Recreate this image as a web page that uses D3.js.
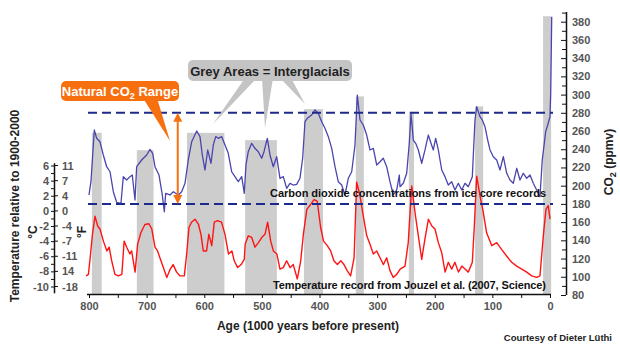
<!DOCTYPE html>
<html>
<head>
<meta charset="utf-8">
<script src="https://cdn.jsdelivr.net/npm/d3@7"></script>
<style>
  body { margin: 0; background: #fff; }
  svg { display: block; font-family: "Liberation Sans", Arial, sans-serif; font-weight: bold; }
</style>
</head>
<body>
<svg id="chart" width="620" height="345"></svg>
<script>
// interglacial periods: [start age, end age, top of grey area in ppmv]
const interglacials = [
  [795, 778, 258], [717, 688, 239], [630, 565, 258], [529, 474, 250],
  [427, 394, 284], [337, 323, 298], [245, 236, 281], [130, 116, 287], [12, -2, 386]
];

// CO2 record [age ka, ppmv]
const co2Series = [
  [800,189.8],[796.6,204.4],[790.8,261.1],[786.7,252],[781,248.3],[775.2,233.7],[769.3,220.8],
  [763.5,215.3],[757.8,193.4],[752,181.8],[744.5,180.7],[740.5,209.9],[734.6,206.2],[728.9,209.9],
  [724.9,211.7],[720.2,184.3],[717.3,220.8],[708.6,228.2],[699.9,233.7],[694.2,239.9],[689.5,235.5],
  [685.5,220.8],[678.5,211.7],[672.8,189.8],[669.3,171.4],[666.9,191.6],[659.4,189.8],[653.7,193.4],
  [645,189.8],[639.2,193.4],[633.4,202.6],[627.7,228.2],[621.8,248.3],[613.1,260],[607.4,253.8],
  [603.4,233.7],[598.7,217.2],[594,239.2],[588.3,224.6],[584.3,244.7],[580.1,253.8],[575.6,252],
  [569.7,253.8],[564,244.7],[558.3,235.5],[552.4,215.3],[546.7,209.9],[540.9,204.4],[535,209.9],
  [530.5,191.6],[527.6,222.7],[523.6,237.3],[517.7,246.5],[512,241],[506.2,237.3],[500.3,230.1],
  [496.3,237.3],[490.6,252],[485.9,233.7],[480.2,220.8],[474.3,231.8],[468.6,208.1],[462.8,209.9],
  [456.9,197.1],[451.2,202.6],[445.5,200.7],[439.6,201.5],[433.9,208.1],[429.2,230.1],[425.2,270.2],
  [421.2,274],[413.6,277.6],[407.8,283.1],[402.1,279.5],[396.2,270.2],[390.5,263],[384.7,253.8],
  [378.8,241],[373.1,220.8],[367.4,204.4],[361.5,200.7],[355.8,189.8],[350,208.1],[344.1,215.3],
  [338.4,244.7],[334.4,299.5],[329.7,272.1],[324,266.6],[318.1,255.6],[312.4,239.2],[306.6,241],
  [300.7,222.7],[295,226.3],[289.3,230.1],[283.4,220.8],[277.7,204.4],[271.9,189.8],[266,195.3],
  [261.5,211.7],[260.3,198.9],[254.6,202.6],[248.7,213.6],[244.2,246.5],[241.2,279.5],[237.2,250.1],
  [233.1,246.5],[228.5,239.2],[222.6,224.6],[216.9,239.2],[211.2,255.6],[206.5,246.5],[202.5,239.2],
  [198.4,252],[193.8,239.2],[187.9,217.2],[182.2,209.9],[176.5,200.7],[170.6,204.4],[164.9,195.3],
  [159.1,202.6],[153.2,195.3],[147.5,202.6],[141.8,198.9],[134.8,209.9],[130.2,272.1],[127.2,286.7],
  [121.5,275.7],[117.5,272.1],[112.8,264.7],[108.1,250.1],[104.1,239.2],[98.4,231.8],[92.5,228.2],
  [86.8,217.2],[81,231.8],[75.1,213.6],[69.4,206.2],[63.7,202.6],[57.8,219.1],[52.1,206.2],
  [46.3,213.6],[40.4,208.1],[34.7,211.7],[29,202.6],[23.1,195.3],[17.4,187.9],[13.4,228.2],
  [9.9,246.5],[7.5,259.3],[4,266.6],[0,275.7],[-1.2,301.4],[-3,385.5]
];

// temperature record [age ka, deg C relative to 1900-2000]
const tempSeries = [
  [805,-8.6],[801,-8.4],[798,-6.2],[794,-3.1],[789.6,-0.7],[785,-2.0],[781,-2.4],[775,-4.0],[769,-5.3],
  [765,-4.8],[760.6,-6.6],[755,-8.4],[749,-8.6],[743,-8.4],[739,-4.0],[734.6,-4.8],[729,-5.7],[726,-5.3],
  [720,-8.1],[715.6,-4.4],[710,-2.9],[703,-1.8],[696,-1.7],[691,-2.4],[685.5,-4.8],[681,-5.3],[677,-6.2],
  [671,-7.5],[665,-8.8],[659,-7.7],[654,-7.1],[648,-8.1],[642,-8.6],[634.6,-8.6],[630.5,-5.7],[626.5,-2.2],
  [622,-1.5],[616,-1.1],[610,-1.8],[605.7,-3.1],[601.7,-5.3],[596,-5.3],[592,-3.1],[587,-4.6],[582.6,-1.5],
  [577,-1.3],[570,-1.5],[564,-3.1],[558,-5.7],[552,-5.3],[548,-6.6],[542,-7.5],[536,-7.1],[530.5,-6.4],
  [529,-4.4],[523.6,-3.3],[517.7,-3.5],[512,-4.8],[506,-4.2],[500,-3.5],[494.6,-3.1],[490,-1.5],[484.7,-4.0],
  [480,-5.3],[474,-5.7],[468.6,-7.7],[463,-7.5],[457,-6.6],[451,-7.5],[445.5,-7.1],[438.5,-9.0],[432.6,-6.6],
  [428,-3.1],[422,0.2],[415,0.9],[409.5,1.5],[404,1.3],[398,-2.2],[393,-4.0],[386.5,-4.6],[380.6,-5.3],
  [375,-6.6],[369,-7.1],[363,-6.6],[357.5,-7.1],[352,-7.9],[346,-8.6],[340,-6.2],[335.5,3.8],[329.7,2.0],
  [324,-0.7],[318,-3.3],[312.4,-4.4],[306.6,-5.7],[300.7,-5.3],[295,-6.2],[289,-7.1],[283.4,-6.2],[277.7,-7.9],
  [272,-8.8],[266,-8.4],[260,-7.7],[251.6,-7.3],[246,-4.2],[240,3.3],[234.3,-0.2],[228.5,-3.3],[222.6,-6.4],
  [217,-3.7],[211,-1.1],[205,-2.0],[199.6,-2.4],[193.8,-4.2],[188,-5.5],[182,-8.1],[176.5,-6.8],[170.6,-7.7],
  [165,-6.8],[159,-8.1],[153,-7.3],[147.5,-7.7],[141.8,-8.1],[134.8,-6.8],[131.3,-2.0],[127.2,4.6],[121.5,2.0],
  [115.8,-0.2],[110,-2.9],[101,-4.6],[92.5,-4.2],[84,-5.1],[75,-6.0],[66.5,-6.8],[57.8,-7.3],[49,-7.7],
  [40.4,-8.1],[31.8,-8.6],[23,-8.8],[17.4,-8.6],[11.6,-3.3],[7,0.2],[3,0.7],[0,-1.1]
];

const ageTicks = [800, 700, 600, 500, 400, 300, 200, 100, 0];
const co2Ticks = [80, 100, 120, 140, 160, 180, 200, 220, 240, 260, 280, 300, 320, 340, 360, 380];
const tempTicksC = [6, 4, 2, 0, -2, -4, -6, -8, -10];
const tempTicksF = ["11", "7", "4", "0", "-4", "-7", "-11", "14", "-18"];
const co2Range = [180, 280];

const svg = d3.select("#chart");
const FONT = "Liberation Sans, Arial, sans-serif";

const x = d3.scaleLinear().domain([800, 0]).range([89, 550]);
const yCO2 = d3.scaleLinear().domain([80, 380]).range([295, 21.7]);
const yT = d3.scaleLinear().domain([6, -10]).range([165.5, 286.5]);

const navy = "#1c2a8c";
const orange = "#f7700f";

// grey interglacial areas
svg.append("g").selectAll("rect")
  .data(interglacials)
  .join("rect")
  .attr("x", d => x(d[0]))
  .attr("width", d => x(d[1]) - x(d[0]))
  .attr("y", d => yCO2(d[2]))
  .attr("height", d => 294 - yCO2(d[2]))
  .attr("fill", "#cdcdcd");

// curves
const co2Line = d3.line().x(d => x(d[0])).y(d => yCO2(d[1]));
const tLine = d3.line().x(d => x(d[0])).y(d => yT(d[1]));

svg.append("path").datum(co2Series)
  .attr("d", co2Line)
  .attr("fill", "none")
  .attr("stroke", "#4a45ad")
  .attr("stroke-width", 1.3)
  .attr("stroke-linejoin", "round");

svg.append("path").datum(tempSeries)
  .attr("d", tLine)
  .attr("fill", "none")
  .attr("stroke", "#ff1414")
  .attr("stroke-width", 1.4)
  .attr("stroke-linejoin", "round");

// dashed range lines
svg.append("g").selectAll("line")
  .data(co2Range)
  .join("line")
  .attr("x1", 88).attr("x2", 553)
  .attr("y1", d => yCO2(d)).attr("y2", d => yCO2(d))
  .attr("stroke", navy)
  .attr("stroke-width", 2)
  .attr("stroke-dasharray", "9,5");

// bottom axis
const xAxis = svg.append("g").attr("transform", "translate(0,294)")
  .call(d3.axisBottom(x).tickValues(d3.range(800, -1, -50)).tickSize(4)
    .tickFormat(d => ageTicks.includes(d) ? d : ""));
xAxis.select(".domain").attr("d", "M87,0.5H551").attr("stroke", "#111").attr("stroke-width", 1.5);
xAxis.selectAll(".tick line").attr("stroke", "#111");
xAxis.selectAll(".tick text").attr("y", 8).attr("fill", "#555")
  .attr("font-size", 11).attr("font-family", FONT).attr("font-weight", "bold");

// right CO2 axis
const rAxis = svg.append("g").attr("transform", "translate(566,0)")
  .call(d3.axisLeft(yCO2).tickValues(d3.range(80, 391, 10)).tickSize(4).tickFormat(""));
rAxis.select(".domain").attr("d", "M0.5,12V295").attr("stroke", "#111").attr("stroke-width", 1.5);
rAxis.selectAll(".tick line").attr("stroke", "#111");
rAxis.selectAll(".tick").filter(d => d % 20 === 0).select("line").attr("x2", -5);
rAxis.append("g")
  .attr("text-anchor", "start").attr("font-family", FONT).attr("font-size", 11)
  .selectAll("text")
  .data(co2Ticks)
  .join("text")
  .attr("x", 6)
  .attr("y", d => yCO2(d) + 4)
  .attr("fill", "#555")
  .text(d => d);

// left temperature axis
const lAxis = svg.append("g").attr("transform", "translate(54,0)")
  .call(d3.axisLeft(yT).tickValues(d3.range(6, -11, -1)).tickSize(3).tickFormat(""));
lAxis.select(".domain").attr("d", "M0.5," + yT(6.3) + "V" + yT(-10.9)).attr("stroke", "#111").attr("stroke-width", 1.5);
lAxis.selectAll(".tick line").attr("stroke", "#111");
lAxis.append("g").selectAll("line")
  .data(tempTicksC)
  .join("line")
  .attr("x1", 0).attr("x2", 4)
  .attr("y1", d => yT(d)).attr("y2", d => yT(d))
  .attr("stroke", "#111");
lAxis.append("g")
  .attr("text-anchor", "end").attr("font-family", FONT).attr("font-size", 11)
  .selectAll("text")
  .data(tempTicksC)
  .join("text")
  .attr("x", -5)
  .attr("y", d => yT(d) + 4)
  .attr("fill", "#555")
  .text(d => d);
lAxis.append("g")
  .attr("text-anchor", "start").attr("font-family", FONT).attr("font-size", 11)
  .selectAll("text")
  .data(tempTicksF)
  .join("text")
  .attr("x", 8)
  .attr("y", (d, i) => yT(tempTicksC[i]) + 4)
  .attr("fill", "#555")
  .text(d => d);

// axis titles
svg.append("text")
  .attr("transform", "translate(19,206) rotate(-90)")
  .attr("text-anchor", "middle")
  .attr("font-size", 12)
  .attr("fill", "#222")
  .text("Temperature relative to 1900-2000");
svg.append("text")
  .attr("transform", "translate(37,232) rotate(-90)")
  .attr("text-anchor", "middle")
  .attr("font-size", 12)
  .attr("fill", "#222")
  .text("°C");
svg.append("text")
  .attr("transform", "translate(86,232) rotate(-90)")
  .attr("text-anchor", "middle")
  .attr("font-size", 12)
  .attr("fill", "#222")
  .text("°F");

const co2Title = svg.append("text")
  .attr("transform", "translate(613,162) rotate(-90)")
  .attr("text-anchor", "middle")
  .attr("font-size", 12)
  .attr("fill", "#222");
co2Title.append("tspan").text("CO");
co2Title.append("tspan").attr("font-size", 9).attr("dy", 3).text("2");
co2Title.append("tspan").attr("dy", -3).text(" (ppmv)");

svg.append("text")
  .attr("x", 308).attr("y", 330)
  .attr("text-anchor", "middle")
  .attr("font-size", 12)
  .attr("fill", "#222")
  .text("Age (1000 years before present)");

svg.append("text")
  .attr("x", 612).attr("y", 341)
  .attr("text-anchor", "end")
  .attr("font-size", 9.5)
  .attr("fill", "#222")
  .text("Courtesy of Dieter Lüthi");

// series labels
svg.append("text")
  .attr("x", 270).attr("y", 197)
  .attr("font-size", 11)
  .attr("fill", "#111")
  .attr("textLength", 276)
  .text("Carbon dioxide concentrations from ice core records");
svg.append("text")
  .attr("x", 273).attr("y", 289)
  .attr("font-size", 11)
  .attr("fill", "#111")
  .attr("textLength", 273)
  .text("Temperature record from Jouzel et al. (2007, Science)");

// natural range arrow
const arrowX = x(646);
const yTop = yCO2(co2Range[1]);
const yBot = yCO2(co2Range[0]);
svg.append("line")
  .attr("x1", arrowX).attr("x2", arrowX)
  .attr("y1", yTop + 6).attr("y2", yBot - 6)
  .attr("stroke", orange).attr("stroke-width", 2);
svg.append("path")
  .attr("d", `M${arrowX},${yTop}L${arrowX - 4.5},${yTop + 9}L${arrowX + 4.5},${yTop + 9}Z` +
    `M${arrowX},${yBot}L${arrowX - 4.5},${yBot - 9}L${arrowX + 4.5},${yBot - 9}Z`)
  .attr("fill", orange);

// callout: grey areas
svg.append("path")
  .attr("d", "M245,78L213,124L257,78Z M262,78L265,128L273,78Z M280,78L305,104L291,78Z")
  .attr("fill", "#c4c4c4");
svg.append("rect")
  .attr("x", 188).attr("y", 60).attr("width", 164).attr("height", 21).attr("rx", 5)
  .attr("fill", "#c4c4c4");
svg.append("text")
  .attr("x", 270).attr("y", 75.5)
  .attr("text-anchor", "middle")
  .attr("font-size", 13)
  .attr("fill", "#222")
  .text("Grey Areas = Interglacials");

// callout: natural CO2 range
svg.append("path")
  .attr("d", "M143,98L170,141L157,98Z")
  .attr("fill", orange);
svg.append("rect")
  .attr("x", 61).attr("y", 81).attr("width", 118).attr("height", 20).attr("rx", 5)
  .attr("fill", orange);
const nat = svg.append("text")
  .attr("x", 120).attr("y", 95.5)
  .attr("text-anchor", "middle")
  .attr("font-size", 13)
  .attr("fill", "#fff");
nat.append("tspan").text("Natural CO");
nat.append("tspan").attr("font-size", 9).attr("dy", 3).text("2");
nat.append("tspan").attr("dy", -3).text(" Range");
</script>
</body>
</html>
